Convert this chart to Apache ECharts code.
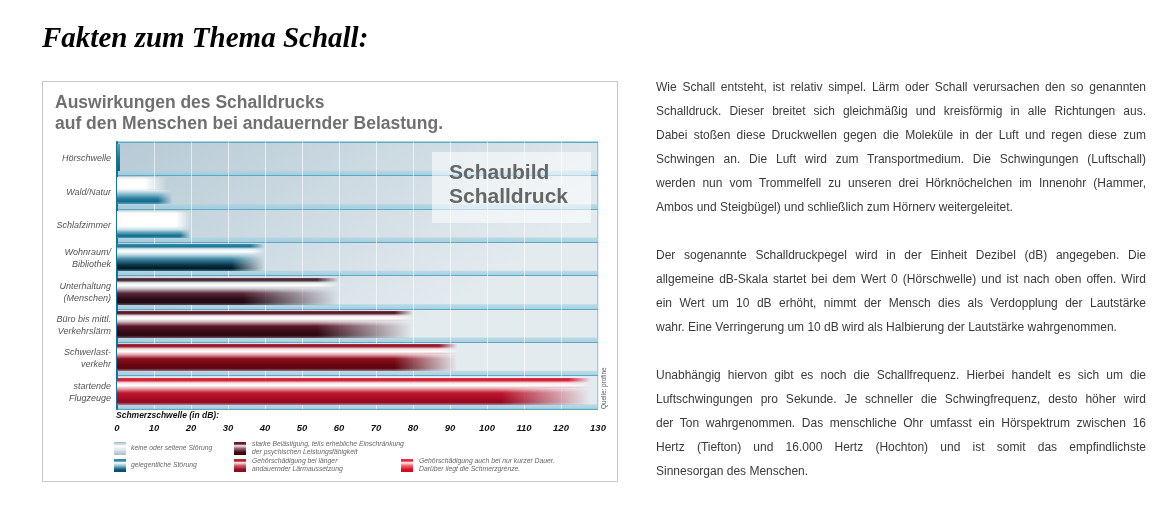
<!DOCTYPE html>
<html><head><meta charset="utf-8">
<script src="https://cdn.jsdelivr.net/npm/echarts@6/dist/echarts.min.js"></script>
<style>
html,body{margin:0;padding:0;background:#fff;width:1165px;height:528px;overflow:hidden}
#chart{position:absolute;left:0;top:0;width:1165px;height:528px}
.para{position:absolute;left:656px;width:490px;font-family:'Liberation Sans',Arial,sans-serif;font-size:12px;line-height:24px;color:#3a3a3a}
.para div{text-align:justify;text-align-last:justify;white-space:normal}
.para div.last{text-align-last:left}
</style></head>
<body>
<div id="chart"></div>
<div class="para" id="p1" style="top:75px"></div>
<div class="para" id="p2" style="top:243px"></div>
<div class="para" id="p3" style="top:363px"></div>
<script>
// ---- data ----
const categories = ['Hörschwelle','Wald/Natur','Schlafzimmer','Wohnraum/\nBibliothek','Unterhaltung\n(Menschen)','Büro bis mittl.\nVerkehrslärm','Schwerlast-\nverkehr','startende\nFlugzeuge'];
const values = [0, 15, 20, 40, 60, 80, 92, 128];
const xMin = 0, xMax = 130, xStep = 10;
const legendLabels = [
  'keine oder seltene Störung',
  'gelegentliche Störung',
  'starke Belästigung, teils erhebliche Einschränkung\nder psychischen Leistungsfähigkeit',
  'Gehörschädigung bei länger\nandauernder Lärmaussetzung',
  'Gehörschädigung auch bei nur kurzer Dauer.\nDarüber liegt die Schmerzgrenze.'
];
const para1 = ['Wie Schall entsteht, ist relativ simpel. Lärm oder Schall verursachen den so genannten','Schalldruck. Dieser breitet sich gleichmäßig und kreisförmig in alle Richtungen aus.','Dabei stoßen diese Druckwellen gegen die Moleküle in der Luft und regen diese zum','Schwingen an. Die Luft wird zum Transportmedium. Die Schwingungen (Luftschall)','werden nun vom Trommelfell zu unseren drei Hörknöchelchen im Innenohr (Hammer,','Ambos und Steigbügel) und schließlich zum Hörnerv weitergeleitet.'];
const para2 = ['Der sogenannte Schalldruckpegel wird in der Einheit Dezibel (dB) angegeben. Die','allgemeine dB-Skala startet bei dem Wert 0 (Hörschwelle) und ist nach oben offen. Wird','ein Wert um 10 dB erhöht, nimmt der Mensch dies als Verdopplung der Lautstärke','wahr. Eine Verringerung um 10 dB wird als Halbierung der Lautstärke wahrgenommen.'];
const para3 = ['Unabhängig hiervon gibt es noch die Schallfrequenz. Hierbei handelt es sich um die','Luftschwingungen pro Sekunde. Je schneller die Schwingfrequenz, desto höher wird','der Ton wahrgenommen. Das menschliche Ohr umfasst ein Hörspektrum zwischen 16','Hertz (Tiefton) und 16.000 Hertz (Hochton) und ist somit das empfindlichste','Sinnesorgan des Menschen.'];

// ---- styles (per row, top to bottom) ----
const barStyles = [
  {stops:[[0,'#5aa2bb'],[0.5,'#1a7a9a'],[1,'#0d6585']], split:0.4, topFade:0, fade:0, minW:3},
  {stops:[[0,'#dfe9ee'],[0.1,'#ffffff'],[0.42,'#ffffff'],[0.52,'#d5e5ec'],[0.62,'#8fc0d2'],[0.8,'#2a7e9c'],[0.9,'#0f6a8a'],[1,'#5a9fb8']], split:0.5, topFade:6, fade:4, topLen:0.9},
  {stops:[[0,'#d8e4ea'],[0.1,'#ffffff'],[0.55,'#ffffff'],[0.68,'#cfe2ea'],[0.8,'#5fa3bb'],[0.92,'#0c6a8a'],[1,'#4e98b2']], split:0.62, topFade:4, fade:3},
  {stops:[[0,'#3a8fab'],[0.1,'#1c7392'],[0.18,'#d9eaf0'],[0.28,'#ffffff'],[0.4,'#bcd9e4'],[0.56,'#3d87a3'],[0.76,'#0d3d52'],[0.9,'#05141c'],[1,'#2a6f88']], split:0.4, topFade:4, fade:9},
  {stops:[[0,'#6a4a55'],[0.08,'#3a1a26'],[0.18,'#e8eef2'],[0.28,'#ffffff'],[0.4,'#c9c4ca'],[0.56,'#5a2a3a'],[0.76,'#2e0c18'],[0.9,'#1e0810'],[1,'#5a4a55']], split:0.38, topFade:6, fade:26},
  {stops:[[0,'#7a3040'],[0.08,'#4a0e1e'],[0.18,'#f0e8ea'],[0.28,'#ffffff'],[0.4,'#d0b8be'],[0.56,'#5a1828'],[0.76,'#3a0a18'],[0.9,'#2a0610'],[1,'#6a5060']], split:0.38, topFade:5, fade:26},
  {stops:[[0,'#b03040'],[0.08,'#8a0c1e'],[0.18,'#f4dcdc'],[0.28,'#ffffff'],[0.4,'#e0a0a8'],[0.55,'#8a1020'],[0.76,'#6a0612'],[0.9,'#5a0410'],[1,'#a07080']], split:0.38, topFade:5, fade:17},
  {stops:[[0,'#e04050'],[0.08,'#c8102a'],[0.18,'#f8e0e0'],[0.28,'#ffffff'],[0.4,'#e8a0a8'],[0.55,'#c01830'],[0.76,'#a80c24'],[0.9,'#900820'],[1,'#b08090']], split:0.38, topFade:6, fade:24}
];
const legendSwatches = [
  [[0,'#9db9c8'],[0.15,'#c9d9e1'],[0.3,'#ffffff'],[0.6,'#dde8ee'],[1,'#a4bfcd']],
  [[0,'#3c8fae'],[0.15,'#2a82a2'],[0.28,'#ffffff'],[0.5,'#9cc6d6'],[0.8,'#0b5f80'],[1,'#0a4a66']],
  [[0,'#7a2030'],[0.15,'#5a1020'],[0.28,'#f4e8ea'],[0.5,'#a06070'],[0.8,'#3a0810'],[1,'#2a0408']],
  [[0,'#c03040'],[0.15,'#a81828'],[0.28,'#fbe8e8'],[0.5,'#d06070'],[0.8,'#9a0c20'],[1,'#8a0a1c']],
  [[0,'#f04050'],[0.15,'#e02030'],[0.28,'#fff0f0'],[0.5,'#f07078'],[0.8,'#dc1020'],[1,'#d00a18']]
];

function fillPara(id, lines){
  const el = document.getElementById(id);
  lines.forEach((l,i)=>{const d=document.createElement('div');d.textContent=l;if(i===lines.length-1)d.className='last';el.appendChild(d);});
}
fillPara('p1',para1);fillPara('p2',para2);fillPara('p3',para3);

function hexToRgb(h){h=h.replace('#','');return [parseInt(h.slice(0,2),16),parseInt(h.slice(2,4),16),parseInt(h.slice(4,6),16)];}
function colorAt(stops,t){
  for(let k=0;k<stops.length-1;k++){
    const t0=stops[k][0],t1=stops[k+1][0];
    if(t<=t1){const f=t1===t0?0:Math.max(0,(t-t0)/(t1-t0));const a=hexToRgb(stops[k][1]),b=hexToRgb(stops[k+1][1]);return a.map((v,j)=>Math.round(v+(b[j]-v)*f));}
  }
  return hexToRgb(stops[stops.length-1][1]);
}
function vGrad(stops){
  return {type:'linear',x:0,y:0,x2:0,y2:1,colorStops:stops.map(s=>({offset:s[0],color:s[1]}))};
}

function renderItem(params, api){
  const v = api.value(0), idx = api.value(1);
  const st = barStyles[idx];
  const p0 = api.coord([0, idx]);
  const p1 = api.coord([v, idx]);
  const unit = (api.coord([10, idx])[0] - p0[0]) / 10;
  const bandH = api.size([0, 1])[1];
  const top = Math.round(p0[1] - bandH/2 + 2);
  const h = Math.round(bandH * 0.8);
  const wFull = Math.max(p1[0] - p0[0], st.minW || 0);
  const children = [];
  for(let i=0;i<h;i++){
    const t = (i+0.5)/h;
    const rgb = colorAt(st.stops, t);
    const upper = t < st.split;
    const w = upper && st.topLen ? wFull*st.topLen : wFull;
    const fu = upper ? st.topFade : st.fade;
    const s = fu > 0 ? Math.max(0, 1 - fu*unit/w) : 1;
    const c = 'rgb('+rgb.join(',')+')', c0 = 'rgba('+rgb.join(',')+',0)';
    children.push({type:'rect', shape:{x:p0[0], y:top+i, width:w, height:1.05},
      style:{fill:{type:'linear',x:0,y:0,x2:1,y2:0,colorStops:[{offset:0,color:c},{offset:s,color:c},{offset:1,color:s>=1?c:c0}]}}});
  }
  return {type:'group', children};
}

const FF = '"Liberation Sans", Arial, sans-serif';
const graphics = [
  {type:'rect', shape:{x:42.5,y:81.5,width:575,height:400}, style:{fill:'rgba(0,0,0,0)', stroke:'#c6c6c6', lineWidth:1}, z:-1, silent:true},
  {type:'text', x:42, y:40, style:{text:'Fakten zum Thema Schall:', font:'italic bold 29px "Liberation Serif", "Times New Roman", serif', fill:'#000', textVerticalAlign:'middle'}},
  {type:'text', x:55, y:93, style:{text:'Auswirkungen des Schalldrucks\nauf den Menschen bei andauernder Belastung.', font:'bold 17.5px '+FF, lineHeight:20.5, fill:'#707070', textVerticalAlign:'top'}},
  {type:'rect', shape:{x:432,y:152,width:159,height:71}, style:{fill:'rgba(255,255,255,0.55)'}, z:10},
  {type:'text', x:449, y:161, style:{text:'Schaubild\nSchalldruck', font:'bold 21px '+FF, lineHeight:24, fill:'#666666', textVerticalAlign:'top'}, z:11},
  {type:'text', x:116, y:416, style:{text:'Schmerzschwelle (in dB):', font:'italic bold 8.5px '+FF, fill:'#111', textVerticalAlign:'middle'}},
  {type:'text', x:604, y:409, rotation:Math.PI/2, style:{text:'Quelle: profine', font:'6.4px '+FF, fill:'#555', textAlign:'left', textVerticalAlign:'middle'}}
];
const legendPos = [[114,442,131,448],[114,459,131,465],[234,442,252,448],[234,459,252,465],[401,459,419,465]];
legendPos.forEach((p,i)=>{
  graphics.push({type:'rect', shape:{x:p[0],y:p[1],width:12,height:13}, style:{fill:vGrad(legendSwatches[i])}});
  graphics.push({type:'text', x:p[2], y:p[3], style:{text:legendLabels[i], font:'italic 6.8px '+FF, lineHeight:8, fill:'#666', textVerticalAlign:'middle'}});
});

const chart = echarts.init(document.getElementById('chart'));
chart.setOption({
  animation:false,
  grid:{left:117, top:142, width:481, height:267, show:true,
    backgroundColor:{type:'linear',x:0,y:0,x2:0.35,y2:1,colorStops:[{offset:0,color:'#b6cad5'},{offset:1,color:'#e4ebef'}]},
    borderColor:'#5fa9c5', borderWidth:1},
  xAxis:{type:'value', min:xMin, max:xMax, interval:xStep,
    axisLine:{show:false}, axisTick:{show:false},
    splitLine:{show:true, lineStyle:{color:'rgba(255,255,255,0.6)', width:1}},
    axisLabel:{margin:14, color:'#111', fontFamily:FF, fontStyle:'italic', fontWeight:'bold', fontSize:9.5}},
  yAxis:{type:'category', data:categories, inverse:true,
    axisLine:{show:true, lineStyle:{color:'#17729a', width:2}}, axisTick:{show:false},
    splitLine:{show:true, lineStyle:{color:'#5fa8c4', width:1}},
    splitArea:{show:true, areaStyle:{color:[{type:'linear',x:0,y:0,x2:0,y2:1,colorStops:[{offset:0,color:'rgba(166,210,226,0)'},{offset:0.84,color:'rgba(166,210,226,0)'},{offset:0.88,color:'rgba(166,210,226,0.7)'},{offset:1,color:'rgba(150,200,222,0.75)'}]}]}},
    axisLabel:{margin:6, color:'#555', fontFamily:FF, fontStyle:'italic', fontSize:9, lineHeight:12}},
  series:[{type:'custom', renderItem:renderItem, encode:{x:0, y:1}, data:values.map((v,i)=>[v,i]), z:3, silent:true}],
  graphic:graphics
});
</script>
</body></html>
